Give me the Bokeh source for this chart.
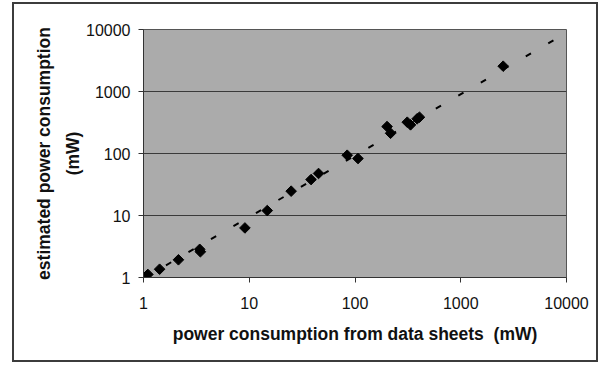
import math
from bokeh.plotting import figure
from bokeh.layouts import column
from bokeh.models import FixedTicker, NumeralTickFormatter
from bokeh.embed import file_html
from bokeh.resources import INLINE

# power consumption from data sheets (mW)
sheet_mw = [1.1, 1.42, 2.14, 3.4, 3.45, 9.1, 14.8, 24.9, 38.4, 45.2,
            84.4, 106.7, 201, 217, 312, 335, 387, 407, 2520]
# estimated power consumption (mW)
est_mw = [1.12, 1.36, 1.93, 2.85, 2.6, 6.3, 12.0, 24.7, 38.0, 47.6,
          93.9, 83.0, 272, 212, 320, 290, 363, 385, 2560]

# trend line end points
trend_x = [1, 10000]
trend_y = [0.97, 8850]

ticks = [1, 10, 100, 1000, 10000]

W, H = 582, 356
p = figure(width=W, height=H, x_axis_type="log", y_axis_type="log",
           x_range=(1, 10000), y_range=(1, 10000),
           output_backend="svg", toolbar_location=None,
           min_border_left=129, min_border_right=30,
           min_border_top=25, min_border_bottom=83)

p.background_fill_color = "#ababab"
p.border_fill_color = "white"
p.outline_line_color = "#555555"
p.outline_line_width = 1

p.xgrid.visible = False
p.ygrid.grid_line_color = "#3a3a3a"
p.ygrid.grid_line_width = 1
p.ygrid.ticker = FixedTicker(ticks=ticks)

for ax in (p.xaxis, p.yaxis):
    ax.ticker = FixedTicker(ticks=ticks)
    ax.formatter = NumeralTickFormatter(format="0")
    ax.minor_tick_line_color = None
    ax.major_tick_in = 0
    ax.major_tick_out = 5
    ax.major_tick_line_color = "#333333"
    ax.axis_line_color = "#333333"
    ax.major_label_text_font = "Liberation Sans"
    ax.major_label_text_font_size = "16px"
    ax.major_label_text_color = "#111111"
    ax.axis_label_text_font = "Liberation Sans"
    ax.axis_label_text_font_size = "17.5px"
    ax.axis_label_text_font_style = "bold"
    ax.axis_label_text_color = "#111111"

p.xaxis.axis_label = "power consumption from data sheets\u00a0 (mW)"
p.xaxis.major_label_standoff = 14
p.xaxis.axis_label_standoff = 12
p.yaxis.axis_label = "estimated power consumption\n(mW)"
p.yaxis.major_label_standoff = 8
p.yaxis.axis_label_standoff = 0
p.yaxis.axis_label_text_line_height = 1.45

p.line(trend_x, trend_y, line_color="black", line_width=2, line_dash="6 20")
p.scatter(sheet_mw, est_mw, marker="square", size=7.5, angle=math.pi / 4,
          color="black")

layout = column(p, styles={"margin-left": "12px", "margin-top": "2px",
                           "border": "2px solid #3c3c3c"})

open("out.html", "w").write(file_html(layout, INLINE))
